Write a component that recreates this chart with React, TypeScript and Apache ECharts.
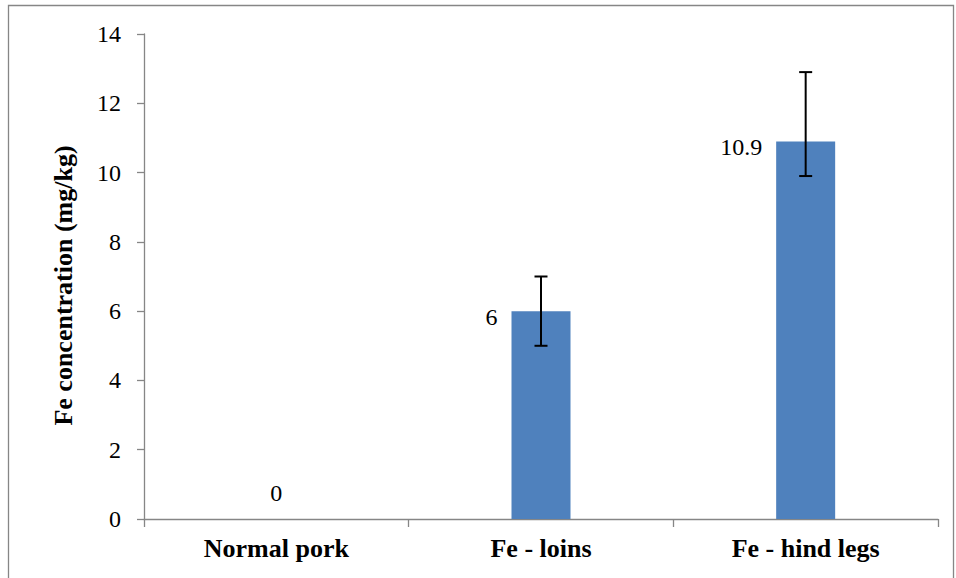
import React, { useEffect, useRef } from "react";
import * as echarts from "echarts";

const categories = ["Normal pork", "Fe - loins", "Fe - hind legs"];
const values = [0, 6, 10.9];
const errLow = [null, 5, 9.9];
const errHigh = [null, 7, 12.9];
const yTicks = { min: 0, max: 14, interval: 2 };

const FONT = "'Liberation Serif', 'Times New Roman', 'DejaVu Serif', serif";
const AXIS = "#868686";

export default function App() {
  const ref = useRef<HTMLDivElement>(null);
  useEffect(() => {
    if (!ref.current) return;
    const chart = echarts.init(ref.current, null, { renderer: "svg" });
    const barData = values.map((v, i) => ({
      value: v,
      label:
        v === 0
          ? { position: [29.5, -26], align: "center", verticalAlign: "middle" }
          : { position: [-14, 6], align: "right", verticalAlign: "middle" },
    }));
    const errData = categories
      .map((c, i) => [i, errLow[i], errHigh[i]])
      .filter((d) => d[1] !== null);
    chart.setOption({
      animation: false,
      textStyle: { fontFamily: FONT },
      graphic: [
        {
          type: "rect",
          shape: { x: 8.5, y: 5.5, width: 945, height: 600 },
          style: { fill: "none", stroke: AXIS, lineWidth: 1.3 },
          silent: true,
        },
      ],
      grid: { left: 144, right: 18, top: 34, bottom: 59 },
      xAxis: {
        type: "category",
        data: categories,
        axisLine: { lineStyle: { color: AXIS, width: 1.3 } },
        axisTick: { show: true, alignWithLabel: false, length: 8, lineStyle: { color: AXIS, width: 1.3 } },
        axisLabel: { color: "#000", fontFamily: FONT, fontSize: 26, fontWeight: "bold", margin: 16 },
      },
      yAxis: {
        type: "value",
        min: yTicks.min,
        max: yTicks.max,
        interval: yTicks.interval,
        name: "Fe concentration (mg/kg)",
        nameLocation: "middle",
        nameGap: 68,
        nameTextStyle: { color: "#000", fontFamily: FONT, fontSize: 26, fontWeight: "bold", padding: [0, 18, 0, 0] },
        axisLine: { show: true, lineStyle: { color: AXIS, width: 1.3 } },
        axisTick: { show: true, length: 7, lineStyle: { color: AXIS, width: 1.3 } },
        splitLine: { show: false },
        axisLabel: { color: "#000", fontFamily: FONT, fontSize: 24, margin: 23 },
      },
      series: [
        {
          type: "bar",
          data: barData,
          barWidth: 59,
          itemStyle: { color: "#4F81BD" },
          label: {
            show: true,
            color: "#000",
            fontFamily: FONT,
            fontSize: 24,
            formatter: (p: any) => String(p.value),
          },
        },
        {
          type: "custom",
          data: errData,
          z: 10,
          renderItem: (params: any, api: any) => {
            const x = api.value(0);
            const lo = api.coord([x, api.value(1)]);
            const hi = api.coord([x, api.value(2)]);
            const half = 6.5;
            const style = { stroke: "#000", lineWidth: 2 };
            return {
              type: "group",
              children: [
                { type: "line", shape: { x1: lo[0], y1: lo[1], x2: hi[0], y2: hi[1] }, style },
                { type: "line", shape: { x1: lo[0] - half, y1: lo[1], x2: lo[0] + half, y2: lo[1] }, style },
                { type: "line", shape: { x1: hi[0] - half, y1: hi[1], x2: hi[0] + half, y2: hi[1] }, style },
              ],
            };
          },
        },
      ],
    });
    return () => chart.dispose();
  }, []);
  return (
    <div
      ref={ref}
      style={{ position: "fixed", left: 0, top: 0, width: 956, height: 578, background: "#fff" }}
    />
  );
}
